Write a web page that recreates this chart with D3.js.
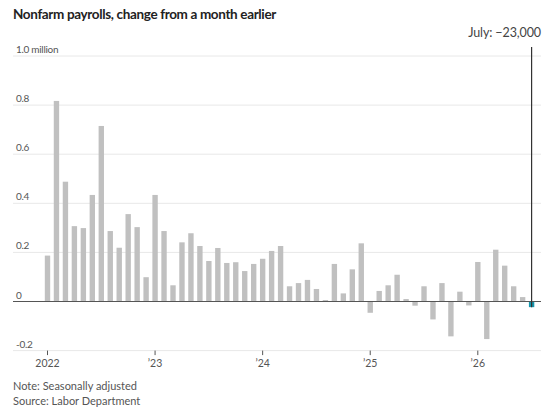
<!DOCTYPE html>
<html>
<head>
<meta charset="utf-8">
<script src="https://cdn.jsdelivr.net/npm/d3@7"></script>
<style>
  body { margin: 0; background: #fff; }
  svg { display: block; font-family: Lato, "Noto Sans", sans-serif; }
</style>
</head>
<body>
<div id="chart-area"></div>
<script>
// Data ---------------------------------------------------
const months = []
const years = [2022, 2023, 2024, 2025, 2026]
years.forEach(y => {
  const n = y === 2026 ? 7 : 12
  for (let m = 0; m < n; m++) months.push(`${y}-${String(m + 1).padStart(2, "0")}`)
})

// change from a month earlier, millions
const payrolls = [
  0.187, 0.817, 0.488, 0.307, 0.299, 0.434, 0.715, 0.287, 0.219, 0.356, 0.303, 0.099,
  0.434, 0.287, 0.066, 0.241, 0.278, 0.226, 0.165, 0.218, 0.157, 0.160, 0.124, 0.153,
  0.174, 0.206, 0.226, 0.062, 0.075, 0.088, 0.051, 0.006, 0.153, 0.033, 0.131, 0.237,
  -0.046, 0.043, 0.066, 0.109, 0.010, -0.017, 0.062, -0.073, 0.075, -0.142, 0.040, -0.016,
  0.161, -0.153, 0.211, 0.146, 0.062, 0.018, -0.023
]

const yTicks = [-0.2, 0, 0.2, 0.4, 0.6, 0.8, 1.0]
const yTickLabels = ["-0.2", "0", "0.2", "0.4", "0.6", "0.8", "1.0 million"]
const xTicks = ["2022-01", "2023-01", "2024-01", "2025-01", "2026-01"]
const xTickLabels = ["2022", "\u201923", "\u201924", "\u201925", "\u201926"]

const title = "Nonfarm payrolls, change from a month earlier"
const annotation = "July: \u221223,000"
const note = "Note: Seasonally adjusted"
const source = "Source: Labor Department"

// Canvas setup -------------------------------------------
const WIDTH = 550
const HEIGHT = 413
const GRID_LEFT = 13
const GRID_RIGHT = 541

const svg = d3.select("#chart-area").append("svg")
  .attr("width", WIDTH)
  .attr("height", HEIGHT)

const data = months.map((m, i) => ({month: m, value: payrolls[i]}))

// Scales
const step = (531.6 - 47.5) / (months.length - 1)
const xScale = d3.scaleBand()
  .domain(months)
  .range([47.5 - step / 2, 531.6 + step / 2])
  .paddingInner(0.4)
  .paddingOuter(0.2)
  .align(0.5)

const yScale = d3.scaleLinear()
  .domain([-0.2, 1.0])
  .range([350.6, 56])

const xCenter = m => xScale(m) + xScale.bandwidth() / 2

// Title
svg.append("text")
  .attr("x", 13)
  .attr("y", 19)
  .attr("font-size", "13.5px")
  .attr("font-weight", "bold")
  .attr("fill", "#222")
  .attr("letter-spacing", "-0.35px")
  .text(title)

// Gridlines + y labels
const grid = svg.append("g")
grid.selectAll("line")
  .data(yTicks.filter(d => d !== 0))
  .enter().append("line")
  .attr("x1", GRID_LEFT)
  .attr("x2", GRID_RIGHT)
  .attr("y1", d => yScale(d))
  .attr("y2", d => yScale(d))
  .attr("stroke", "#e8e8e8")
  .attr("stroke-width", 1)

grid.selectAll("text")
  .data(yTicks)
  .enter().append("text")
  .attr("x", 16)
  .attr("y", d => yScale(d) - 3)
  .attr("font-size", "10px")
  .attr("fill", "#555")
  .attr("letter-spacing", "-0.3px")
  .text((d, i) => yTickLabels[i])

// Bars
const last = months[months.length - 1]
svg.append("g").selectAll("rect")
  .data(data)
  .enter().append("rect")
  .attr("x", d => xScale(d.month))
  .attr("y", d => yScale(Math.max(0, d.value)))
  .attr("width", xScale.bandwidth())
  .attr("height", d => Math.abs(yScale(d.value) - yScale(0)))
  .attr("fill", d => d.month === last ? "#1596ad" : "#c0c0c0")

// Zero line
svg.append("line")
  .attr("x1", GRID_LEFT)
  .attr("x2", GRID_RIGHT)
  .attr("y1", yScale(0))
  .attr("y2", yScale(0))
  .attr("stroke", "#555")
  .attr("stroke-width", 1.2)

// x axis ticks
const xAxis = svg.append("g")
xAxis.selectAll("line")
  .data(xTicks)
  .enter().append("line")
  .attr("x1", d => xCenter(d))
  .attr("x2", d => xCenter(d))
  .attr("y1", yScale(-0.2))
  .attr("y2", yScale(-0.2) + 4.5)
  .attr("stroke", "#555")
  .attr("stroke-width", 1)

xAxis.selectAll("text")
  .data(xTicks)
  .enter().append("text")
  .attr("x", d => xCenter(d))
  .attr("y", 367)
  .attr("text-anchor", "middle")
  .attr("font-size", "10.5px")
  .attr("fill", "#555")
  .text((d, i) => xTickLabels[i])

// Annotation line + label
svg.append("line")
  .attr("x1", xCenter(last))
  .attr("x2", xCenter(last))
  .attr("y1", 47)
  .attr("y2", yScale(payrolls[payrolls.length - 1]))
  .attr("stroke", "#333")
  .attr("stroke-width", 1.2)

svg.append("text")
  .attr("x", GRID_RIGHT)
  .attr("y", 37)
  .attr("text-anchor", "end")
  .attr("font-size", "12.5px")
  .attr("fill", "#444")
  .attr("letter-spacing", "-0.1px")
  .text(annotation)

// Footer
svg.append("text")
  .attr("x", 13)
  .attr("y", 390)
  .attr("font-size", "11px")
  .attr("fill", "#555")
  .text(note)

svg.append("text")
  .attr("x", 13)
  .attr("y", 405)
  .attr("font-size", "11px")
  .attr("fill", "#555")
  .text(source)
</script>
</body>
</html>
